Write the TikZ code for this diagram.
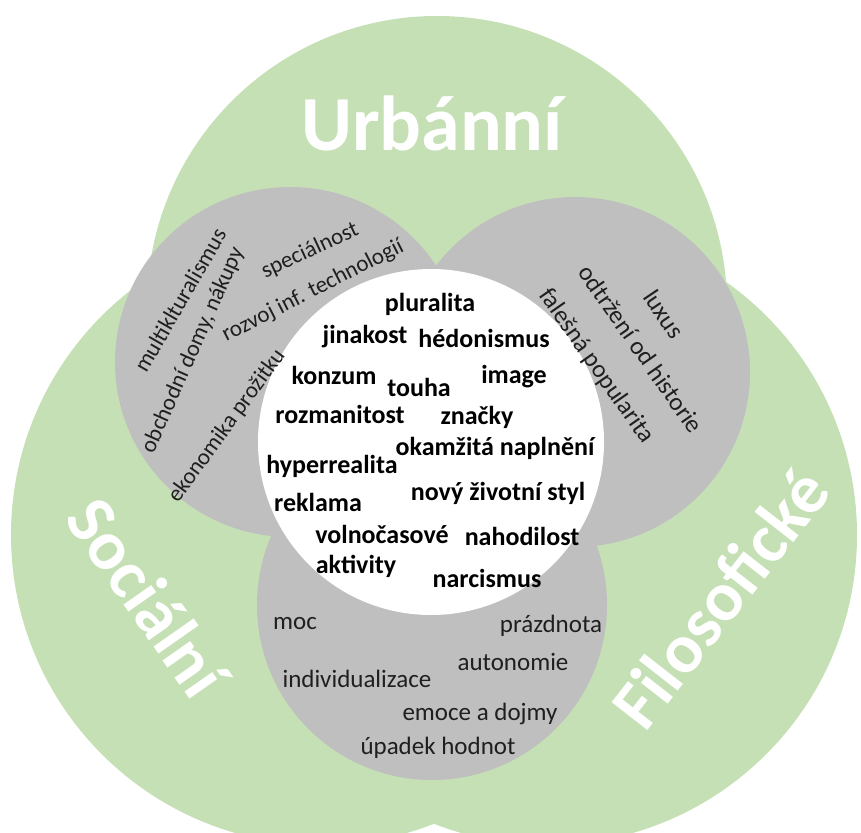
\documentclass[tikz,border=0pt]{standalone}
\usepackage{fontspec}
\setmainfont{Carlito}
\definecolor{zelena}{HTML}{C5E0B4}
\definecolor{seda}{HTML}{BFBFBF}
\begin{document}
\begin{tikzpicture}[x=1pt,y=-1pt,
  nadpis/.style={text=white,inner sep=0pt,font=\bfseries\fontsize{70}{70}\selectfont},
  pojem/.style={inner sep=0pt,font=\bfseries\fontsize{26}{26}\selectfont},
  slovo/.style={text=black!88,inner sep=0pt,font=\fontsize{25}{25}\selectfont},
  sikmo/.style={text=black!88,inner sep=0pt,font=\fontsize{23}{23}\selectfont}]
\clip (0,0) rectangle (861,832);

\coordinate (Urb) at (437,306);
\coordinate (Soc) at (321,535);
\coordinate (Fil) at (547,535);
\coordinate (sL) at (290,362);
\coordinate (sP) at (575,372);
\coordinate (sD) at (432,605);
\coordinate (stred) at (431,442);

% tri velke kruhy
\fill[zelena] (Urb) circle (290pt);
\fill[zelena] (Soc) circle (310pt);
\fill[zelena] (Fil) circle (310pt);
% sede kruhy
\fill[seda] (sL) circle (175pt);
\fill[seda] (sP) circle (175pt);
\fill[seda] (sD) circle (175pt);
% stred
\fill[white] (stred) circle (173pt);

\node[nadpis,font=\bfseries\fontsize{78}{78}\selectfont] (urb) at (432,123) {Urbánní};
\node[nadpis,rotate=-55] (soc) at (148,597) {Sociální};
\node[nadpis,rotate=52] (fil) at (720,598) {Filosofické};

% levy sedy
\node[sikmo,rotate=60] (multi) at (180,300) {multiklturalismus};
\node[sikmo,rotate=66] (obch) at (193,350) {obchodní domy, nákupy};
\node[sikmo,rotate=25] (spec) at (310,251) {speciálnost};
\node[sikmo,rotate=27] (rozv) at (313,291) {rozvoj inf. technologií};
\node[sikmo,rotate=54] (ekon) at (227,426) {ekonomika prožitku};

% pravy sedy
\node[sikmo,font=\fontsize{25}{25}\selectfont,rotate=-56] (lux) at (664,314) {luxus};
\node[sikmo,font=\fontsize{25}{25}\selectfont,rotate=-55] (odtr) at (641,349) {odtržení od historie};
\node[sikmo,font=\fontsize{25}{25}\selectfont,rotate=-55] (fal) at (596,366) {falešná popularita};

% dolni sedy
\node[slovo] (moc) at (295,624) {moc};
\node[slovo] (prazd) at (551,626) {prázdnota};
\node[slovo] (auto) at (513,662) {autonomie};
\node[slovo] (indiv) at (357,679) {individualizace};
\node[slovo] (emoce) at (480,714) {emoce a dojmy};
\node[slovo] (upad) at (438,748) {úpadek hodnot};

% bile stred
\node[pojem] (plur) at (430,304) {pluralita};
\node[pojem] (jina) at (365,337) {jinakost};
\node[pojem] (hedo) at (484,338) {hédonismus};
\node[pojem] (konz) at (334,375) {konzum};
\node[pojem] (touha) at (419,387) {touha};
\node[pojem] (image) at (514,377) {image};
\node[pojem] (rozm) at (340,414) {rozmanitost};
\node[pojem] (znac) at (477,417) {značky};
\node[pojem] (okam) at (495,448) {okamžitá naplnění};
\node[pojem] (hyper) at (332,466) {hyperrealita};
\node[pojem] (novy) at (498,493) {nový životní styl};
\node[pojem] (rekl) at (318,502) {reklama};
\node[pojem] (voln) at (382,534) {volnočasové};
\node[pojem] (nahod) at (522,536) {nahodilost};
\node[pojem] (akt) at (356,566) {aktivity};
\node[pojem] (narc) at (487,578) {narcismus};

\end{tikzpicture}
\end{document}
